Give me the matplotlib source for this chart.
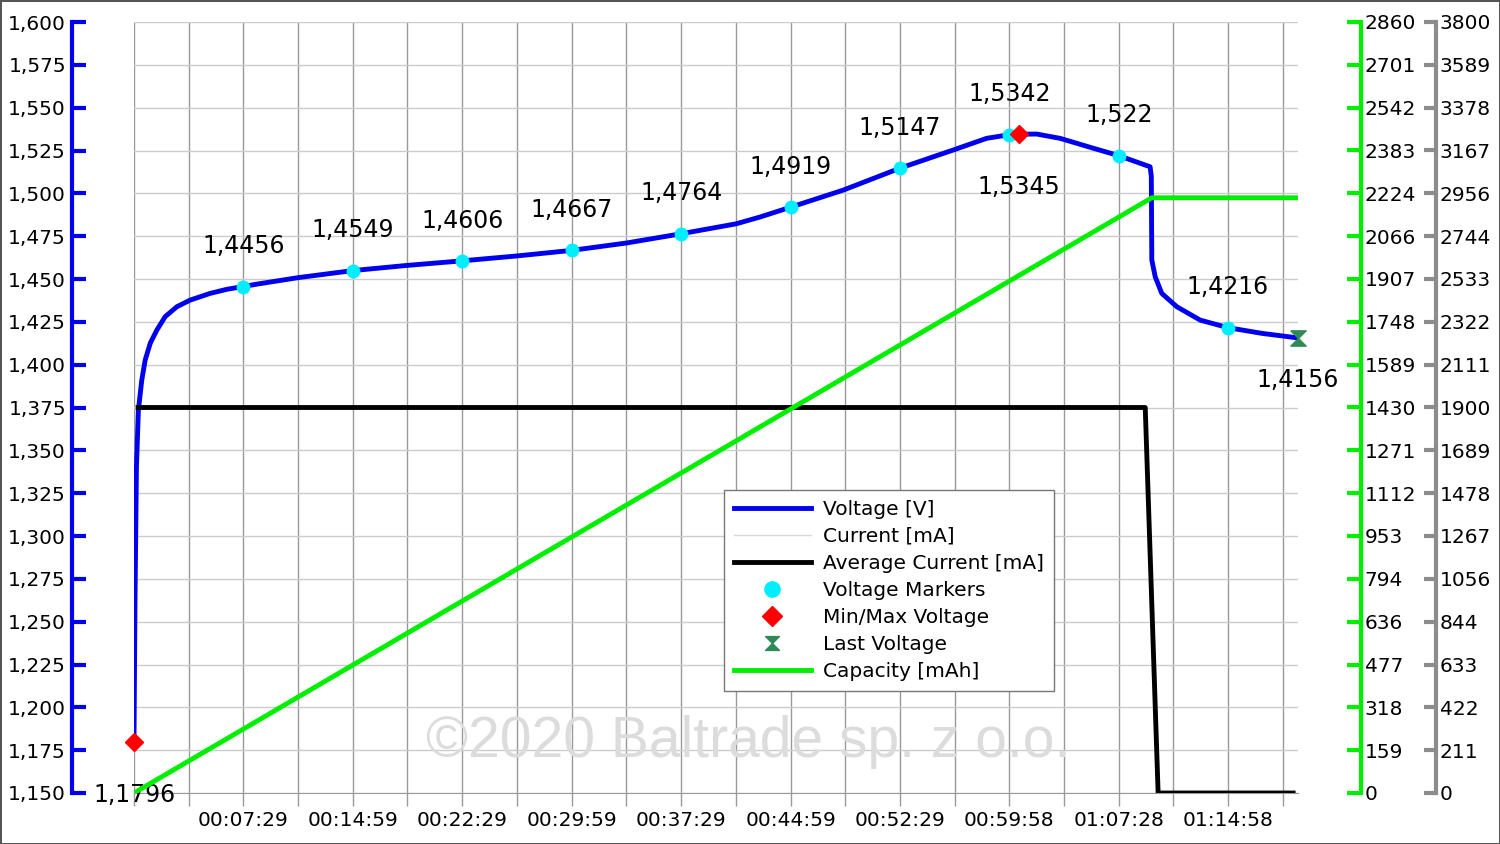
import numpy as np
import matplotlib
matplotlib.use("Agg")
import matplotlib.pyplot as plt
from matplotlib.ticker import FixedLocator, FuncFormatter
from matplotlib.lines import Line2D

# voltage curve (time in s, volts)
volt_t = [0, 4, 10, 18, 32, 46, 67, 94, 128, 176, 231, 313, 382, 449, 505, 675,
          899, 1120, 1349, 1570, 1799, 2024, 2249, 2475, 2574, 2699, 2916, 3149,
          3368, 3505, 3598, 3638, 3711, 3807, 3944, 4048, 4177, 4182, 4184, 4198,
          4225, 4287, 4383, 4497, 4640, 4785]
volt_v = [1.1796, 1.26, 1.34, 1.3735, 1.391, 1.4027, 1.4126, 1.4202, 1.428, 1.4338,
          1.4377, 1.4416, 1.444, 1.4456, 1.447, 1.4508, 1.4549, 1.4579, 1.4606,
          1.4634, 1.4667, 1.4710, 1.4764, 1.4822, 1.4862, 1.4919, 1.5019, 1.5147,
          1.5253, 1.5321, 1.5342, 1.5345, 1.5346, 1.5321, 1.5263, 1.5220, 1.5155,
          1.5100, 1.4611, 1.4513, 1.4416, 1.4338, 1.4260, 1.4216, 1.4182, 1.4156]

# markers
mark_t = [449, 899, 1349, 1799, 2249, 2699, 3149, 3598, 4048, 4497]
mark_v = [1.4456, 1.4549, 1.4606, 1.4667, 1.4764, 1.4919, 1.5147, 1.5342, 1.522, 1.4216]
minmax_t = [0, 3638]
minmax_v = [1.1796, 1.5345]
last_t = [4785]
last_v = [1.4156]

# current (mA)
cur_t = [0, 4162, 4205, 4765]
cur_v = [1900, 1900, 0, 0]
avg_t = [17, 4157, 4210, 4765]
avg_v = [1900, 1900, 0, 0]

# capacity (mAh)
cap_t = [0, 4184, 4785]
cap_v = [0, 2208, 2208]

# axes ticks
x_major = [449, 899, 1349, 1799, 2249, 2699, 3149, 3598, 4048, 4498]
x_labels = ["00:07:29", "00:14:59", "00:22:29", "00:29:59", "00:37:29",
            "00:44:59", "00:52:29", "00:59:58", "01:07:28", "01:14:58"]
cap_labels = ["0", "159", "318", "477", "636", "794", "953", "1112", "1271", "1430",
              "1589", "1748", "1907", "2066", "2224", "2383", "2542", "2701", "2860"]
cur_labels = ["0", "211", "422", "633", "844", "1056", "1267", "1478", "1689", "1900",
              "2111", "2322", "2533", "2744", "2956", "3167", "3378", "3589", "3800"]

BLUE = "#0000ee"
GREEN = "#00ee00"
GRAY = "#8c8c8c"
FS = 14.5
LW = 3.5

def comma(v):
    return f"{v:g}".replace(".", ",")

fig = plt.figure(figsize=(15, 8.44), dpi=100)
fig.patch.set_edgecolor("#555555")
fig.patch.set_linewidth(2)
ax = fig.add_axes([134 / 1500, 1 - 793 / 844, 1164 / 1500, 771 / 844])
ax_cur = ax.twinx()
ax_cap = ax.twinx()

ax.set_xlim(0, 4785)
ax.set_ylim(1.15, 1.6)
ax_cur.set_ylim(0, 3800)
ax_cap.set_ylim(0, 2860)

# spines
ax.spines["left"].set_position(("outward", 45))
ax.spines["left"].set_color(BLUE)
ax.spines["left"].set_linewidth(3)
ax.spines["top"].set_visible(False)
ax.spines["right"].set_visible(False)
ax.spines["bottom"].set_color("#999999")
for a in (ax_cur, ax_cap):
    for s in ("left", "top", "bottom"):
        a.spines[s].set_visible(False)
ax_cap.spines["right"].set_position(("outward", 45))
ax_cap.spines["right"].set_color(GREEN)
ax_cap.spines["right"].set_linewidth(3)
ax_cur.spines["right"].set_position(("outward", 99))
ax_cur.spines["right"].set_color(GRAY)
ax_cur.spines["right"].set_linewidth(3)

# ticks
vt = np.arange(1.15, 1.6001, 0.025)
ax.yaxis.set_major_locator(FixedLocator(vt))
ax.yaxis.set_major_formatter(FuncFormatter(lambda v, p: f"{v:.3f}".replace(".", ",")))
ax.tick_params(axis="y", direction="in", length=10, width=3, color=BLUE,
               labelsize=FS, pad=4)
ax.set_xticks(x_major)
ax.set_xticklabels(x_labels)
x_minor = [0] + [m - 224.9 for m in x_major] + [x_major[-1] + 224.9]
ax.set_xticks(x_minor, minor=True)
ax.tick_params(axis="x", which="both", direction="out", length=9, width=1,
               color="#999999", labelsize=FS, pad=4)

ax_cap.set_yticks(np.linspace(0, 2860, 19))
ax_cap.set_yticklabels(cap_labels)
ax_cap.tick_params(axis="y", direction="in", length=10, width=3, color=GREEN,
                   labelsize=FS, pad=3)
ax_cur.set_yticks(np.linspace(0, 3800, 19))
ax_cur.set_yticklabels(cur_labels)
ax_cur.tick_params(axis="y", direction="in", length=9, width=3, color=GRAY,
                   labelsize=FS, pad=3)

# grid
ax.set_axisbelow(True)
ax.grid(True, axis="y", color="#cccccc", lw=1)
ax.grid(True, axis="x", which="both", color="#999999", lw=1)

# data
ax.plot(volt_t, volt_v, color=BLUE, lw=LW, solid_joinstyle="round")
ax.plot(mark_t, mark_v, "o", color="#00eeff", ms=9, ls="none")
ax.plot(minmax_t, minmax_v, "D", color="red", ms=9, ls="none", clip_on=False)
hourglass = [(-1, 1), (1, 1), (0, 0), (1, -1), (-1, -1), (0, 0), (-1, 1)]
ax.plot(last_t, last_v, marker=hourglass, color="#2e8b57", ms=11, ls="none",
        clip_on=False)

for t, v in zip(mark_t, mark_v):
    ax.annotate(comma(v), (t, v), xytext=(0, 29), textcoords="offset points",
                ha="center", va="center", fontsize=17)
ax.annotate(comma(minmax_v[0]), (minmax_t[0], minmax_v[0]), xytext=(0, -38),
            textcoords="offset points", ha="center", va="center", fontsize=17,
            annotation_clip=False)
ax.annotate(comma(minmax_v[1]), (minmax_t[1], minmax_v[1]), xytext=(0, -38),
            textcoords="offset points", ha="center", va="center", fontsize=17)
ax.annotate(comma(last_v[0]), (last_t[0], last_v[0]), xytext=(0, -30),
            textcoords="offset points", ha="center", va="center", fontsize=17,
            annotation_clip=False)

ax_cur.plot(cur_t, cur_v, color="#d8d8d8", lw=1)
ax_cur.plot(avg_t, avg_v, color="black", lw=LW)
ax_cap.plot(cap_t, cap_v, color=GREEN, lw=LW)

fig.text(748 / 1500, 1 - 742 / 844, "©2020 Baltrade sp. z o.o.", fontsize=41,
         family="Liberation Sans", color="#dcdcdc", ha="center", va="center",
         zorder=0)

handles = [
    Line2D([], [], color=BLUE, lw=LW),
    Line2D([], [], color="#d8d8d8", lw=1),
    Line2D([], [], color="black", lw=LW),
    Line2D([], [], marker="o", color="#00eeff", ms=11, ls="none"),
    Line2D([], [], marker="D", color="red", ms=10, ls="none"),
    Line2D([], [], marker=hourglass, color="#2e8b57", ms=10, ls="none"),
    Line2D([], [], color=GREEN, lw=LW),
]
labels = ["Voltage [V]", "Current [mA]", "Average Current [mA]", "Voltage Markers",
          "Min/Max Voltage", "Last Voltage", "Capacity [mAh]"]
leg = ax_cap.legend(handles, labels, loc="lower left", bbox_to_anchor=(0.507, 0.132),
                    fontsize=FS, fancybox=False, framealpha=1, edgecolor="#777777",
                    handlelength=3.8, handletextpad=0.6, labelspacing=0.4,
                    borderaxespad=0, borderpad=0.5)
leg.get_frame().set_linewidth(1)

fig.savefig("out.png", dpi=100, edgecolor=fig.get_edgecolor())
